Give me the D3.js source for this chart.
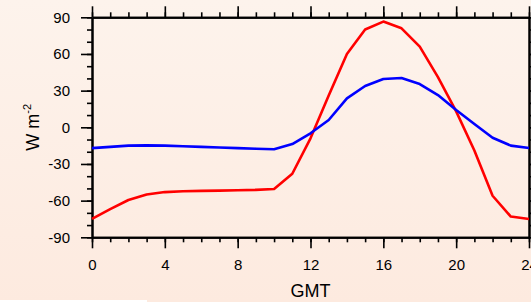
<!DOCTYPE html>
<html>
<head>
<meta charset="utf-8">
<script src="https://cdn.jsdelivr.net/npm/d3@7/dist/d3.min.js"></script>
<style>
  html, body { margin: 0; padding: 0; background: #fdeee4; }
  svg { display: block; }
</style>
</head>
<body>
<script>
// ---- data ----
const hours = [0,1,2,3,4,5,6,7,8,9,10,11,12,13,14,15,16,17,18,19,20,21,22,23,24];
const redSeries = [-75,-67,-59.5,-55,-53,-52.3,-52,-51.8,-51.5,-51.2,-50.5,-38,-9,26,60,80,86.5,81,66,41,13,-19,-56,-73,-75];
const blueSeries = [-17,-16,-15,-14.8,-15,-15.5,-16,-16.5,-17,-17.5,-18,-13.7,-4.9,6,23.7,33.8,39.5,40.3,35.4,26.4,14.2,2.7,-8.5,-15,-17];
const xTickLabels = [0,4,8,12,16,20,24];
const yTickLabels = [-90,-60,-30,0,30,60,90];
const xTitle = "GMT";
const yTitleMain = "W m";
const yTitleSup = "-2";

(function(){
const W = 531, H = 302;
const mLeft = 92, mRight = 529, mTop = 17.3, mBottom = 237.3;
const font = "'Liberation Sans', Arial, Helvetica, sans-serif";

const svg = d3.select("body").append("svg").attr("width", W).attr("height", H);
const defs = svg.append("defs");
const grad = defs.append("linearGradient").attr("id","bg").attr("x1",0).attr("y1",0).attr("x2",0).attr("y2",1);
grad.append("stop").attr("offset","0%").attr("stop-color","#fdf3ec");
grad.append("stop").attr("offset","100%").attr("stop-color","#fdeadf");
svg.append("rect").attr("width",W).attr("height",H).attr("fill","url(#bg)");
svg.append("rect").attr("x",0).attr("y",300).attr("width",147).attr("height",2).attr("fill","#ffffff");

const x = d3.scaleLinear().domain([0,24]).range([mLeft,mRight]);
const y = d3.scaleLinear().domain([-90,90]).range([mBottom,mTop]);

const majorX = xTickLabels;
const minorX = d3.range(0,25,1);
const majorY = yTickLabels;
const minorY = d3.range(-90,91,10);
const plain = d => String(d);

function styleAxis(g){
  g.select(".domain").attr("stroke","#000").attr("stroke-width",2);
  g.selectAll(".tick line").attr("stroke","#000").attr("stroke-width",1.6);
}

const minorLen = 5, majorLen = 11;
["bottom","top"].forEach(pos => {
  const ty = pos === "bottom" ? mBottom : mTop;
  const mk = () => pos === "bottom" ? d3.axisBottom(x) : d3.axisTop(x);
  svg.append("g").attr("transform",`translate(0,${ty})`)
    .call(mk().tickValues(minorX).tickSize(minorLen).tickSizeOuter(0).tickFormat(""))
    .call(styleAxis);
  const g = svg.append("g").attr("transform",`translate(0,${ty})`)
    .call(mk().tickValues(majorX).tickSize(majorLen).tickSizeOuter(0)
      .tickFormat(pos === "bottom" ? plain : ""))
    .call(styleAxis);
  g.selectAll("text").attr("font-family",font).attr("font-size",15).attr("fill","#000")
    .attr("y", 22);
});
["left","right"].forEach(pos => {
  const tx = pos === "left" ? mLeft : mRight;
  const mk = () => pos === "left" ? d3.axisLeft(y) : d3.axisRight(y);
  svg.append("g").attr("transform",`translate(${tx},0)`)
    .call(mk().tickValues(minorY).tickSize(minorLen).tickSizeOuter(0).tickFormat(""))
    .call(styleAxis);
  const g = svg.append("g").attr("transform",`translate(${tx},0)`)
    .call(mk().tickValues(majorY).tickSize(majorLen).tickSizeOuter(0)
      .tickFormat(pos === "left" ? plain : ""))
    .call(styleAxis);
  g.selectAll("text").attr("font-family",font).attr("font-size",15).attr("fill","#000")
    .attr("x", -22);
});

const line = d3.line().x((d,i)=>x(hours[i])).y(d=>y(d));
svg.append("path").datum(redSeries).attr("d",line).attr("fill","none")
  .attr("stroke","#ff0000").attr("stroke-width",2.6).attr("stroke-linejoin","round");
svg.append("path").datum(blueSeries).attr("d",line).attr("fill","none")
  .attr("stroke","#0000ff").attr("stroke-width",2.6).attr("stroke-linejoin","round");

svg.append("text").attr("x",(mLeft+mRight)/2).attr("y",297).attr("text-anchor","middle")
  .attr("font-family",font).attr("font-size",18).attr("fill","#000").text(xTitle);
const yt = svg.append("text").attr("transform",`translate(38.5,${(mTop+mBottom)/2}) rotate(-90)`)
  .attr("text-anchor","middle").attr("font-family",font).attr("font-size",18).attr("fill","#000");
yt.append("tspan").text(yTitleMain);
yt.append("tspan").attr("font-size",11).attr("dy",-8).text(yTitleSup);
})();
</script>
</body>
</html>
